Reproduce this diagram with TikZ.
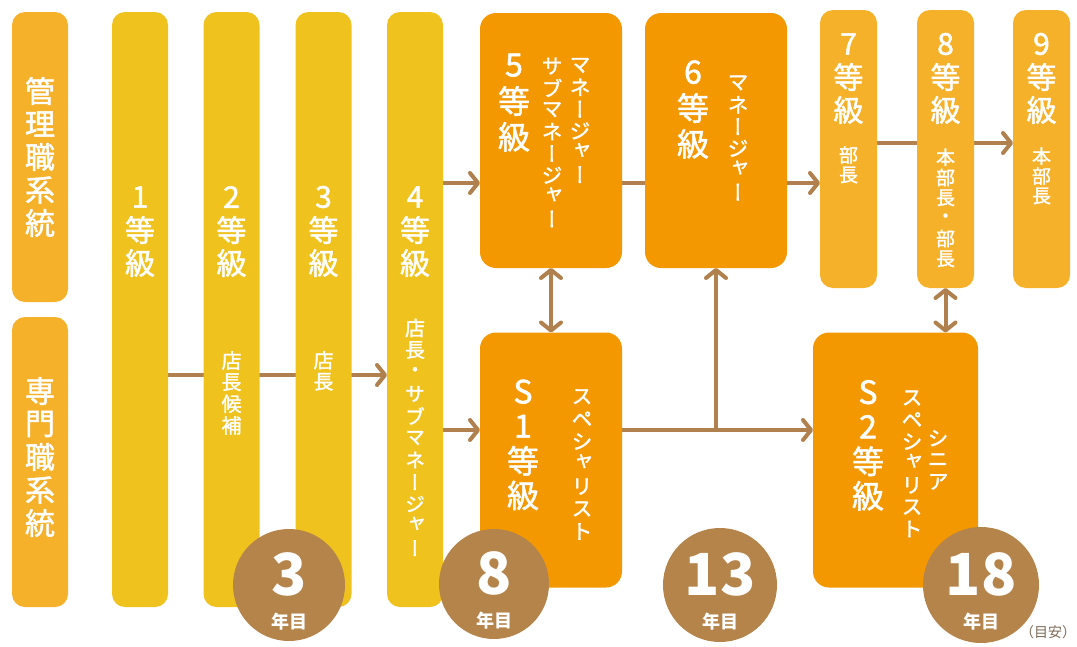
\documentclass[tikz,border=0pt]{standalone}
\usepackage{fontspec}
\usetikzlibrary{arrows.meta,calc}
\newfontfamily\jpv[RawFeature=+vert, FakeBold=1.6]{Noto Sans CJK JP}
\newfontfamily\jp{Noto Sans CJK JP}
\definecolor{cKan}{HTML}{F5B12A}
\definecolor{cBar}{HTML}{EFC21E}
\definecolor{cOra}{HTML}{F39800}
\definecolor{cBrn}{HTML}{B5844B}
\definecolor{cArr}{HTML}{B0814E}
\definecolor{cNote}{HTML}{7B6A58}
\ExplSyntaxOn
\NewDocumentCommand\vt{O{1}m}{
  \vbox{\offinterlineskip
    \tl_map_inline:nn {#2}{
      \tl_if_in:nnTF {ャュョッァィゥェォ} {##1}
        {\hbox to 1em {\hss\vbox to #1em{\vss\hbox{##1}\vss\kern0.22em}\hss}}
        {\hbox to 1em {\hss\vbox to #1em{\vss\hbox{##1}\vss}\hss}}
    }}
}
\ExplSyntaxOff
\pgfdeclarelayer{bg}
\pgfsetlayers{bg,main}
\tikzset{
  box/.style={rectangle, inner sep=0pt, outer sep=0pt},
  kbox/.style={box, fill=cKan, rounded corners=13pt, minimum width=56pt},
  ybar/.style={box, fill=cBar, rounded corners=13pt, minimum width=56pt, minimum height=595pt},
  obox/.style={box, fill=cOra, rounded corners=16pt, minimum height=255pt},
  gbox/.style={box, fill=cKan, rounded corners=13pt, minimum width=57pt, minimum height=278pt},
  yr/.style={circle, fill=cBrn, inner sep=0pt},
  big/.style={text=white, inner sep=0pt, font=\jpv\fontsize{30}{30}\selectfont},
  sm/.style={text=white, inner sep=0pt, font=\jpv\fontsize{20}{20}\selectfont},
  num/.style={text=white, inner sep=0pt, font=\jp\bfseries\fontsize{58}{58}\selectfont},
  nen/.style={text=white, inner sep=0pt, font=\jp\bfseries\fontsize{18}{18}\selectfont},
  line/.style={draw=cArr, line width=4pt},
  arr/.style={line, -{Straight Barb[length=8pt,width=20pt,round]}},
  arrd/.style={line, {Straight Barb[length=8pt,width=20pt,round]}-{Straight Barb[length=8pt,width=20pt,round]}}
}
\begin{document}
\begin{tikzpicture}[x=1pt,y=-1pt]
\useasboundingbox (0,0) rectangle (1077,646);
% left column
\node[kbox, minimum height=290pt] (k1) at (40,157) {};
\node[kbox, minimum height=290pt] (k2) at (40,462) {};
\node[big] (k1t) at (40,157) {\vt[1.1]{管理職系統}};
\node[big] (k2t) at (40,457) {\vt[1.1]{専門職系統}};
% grade bars 1-4
\node[ybar] (b1) at (140,309.5) {};
\node[ybar] (b2) at (231.5,309.5) {};
\node[ybar] (b3) at (323.5,309.5) {};
\node[ybar] (b4) at (415,309.5) {};
\node[big] (b1t) at (140,230) {\vt[1.1]{1等級}};
\node[big] (b2t) at (231.5,230) {\vt[1.1]{2等級}};
\node[big] (b3t) at (323.5,230) {\vt[1.1]{3等級}};
\node[big] (b4t) at (415,230) {\vt[1.1]{4等級}};
\node[sm] (b2s) at (231.5,393) {\vt[1.08]{店長候補}};
\node[sm] (b3s) at (323.5,371) {\vt[1.08]{店長}};
\node[sm] (b4s) at (415,438) {\vt[1.1]{店長・サブマネージャー}};
% orange boxes
\node[obox, minimum width=142pt] (m5) at (551,140.5) {};
\node[obox, minimum width=142pt] (m6) at (716,140.5) {};
\node[obox, minimum width=142pt] (s1) at (551,460) {};
\node[obox, minimum width=165pt] (s2) at (895.5,460) {};
\node[big, font=\jpv\fontsize{32}{32}\selectfont] (m5t) at (514,101) {\vt[1.12]{5等級}};
\node[sm, font=\jpv\fontsize{21}{21}\selectfont] (m5a) at (580,120) {\vt[1.04]{マネージャー}};
\node[sm, font=\jpv\fontsize{21}{21}\selectfont] (m5b) at (552,142.5) {\vt[1.04]{サブマネージャー}};
\node[big, font=\jpv\fontsize{32}{32}\selectfont] (m6t) at (693,108) {\vt[1.12]{6等級}};
\node[sm, font=\jpv\fontsize{21}{21}\selectfont] (m6a) at (738,137.5) {\vt[1.04]{マネージャー}};
\node[big, font=\jpv\fontsize{32}{32}\selectfont] (s1t) at (523,443.5) {\vt[1.08]{S1等級}};
\node[sm, font=\jpv\fontsize{21}{21}\selectfont] (s1a) at (582,464) {\vt[1.07]{スペシャリスト}};
\node[big, font=\jpv\fontsize{32}{32}\selectfont] (s2t) at (868,444) {\vt[1.08]{S2等級}};
\node[sm, font=\jpv\fontsize{21}{21}\selectfont] (s2a) at (912,463.5) {\vt[1.04]{スペシャリスト}};
\node[sm, font=\jpv\fontsize{21}{21}\selectfont] (s2b) at (938,460) {\vt[1.04]{シニア}};
% grades 7-9
\node[gbox] (g7) at (848.5,149) {};
\node[gbox] (g8) at (945.5,149) {};
\node[gbox] (g9) at (1041.5,149) {};
\node[big] (g7t) at (848.5,77) {\vt[1.1]{7等級}};
\node[big] (g8t) at (945.5,77) {\vt[1.1]{8等級}};
\node[big] (g9t) at (1041.5,77) {\vt[1.1]{9等級}};
\node[sm, font=\jpv\fontsize{19}{19}\selectfont] (g7s) at (848.5,165) {\vt[1.05]{部長}};
\node[sm, font=\jpv\fontsize{19}{19}\selectfont] (g8s) at (945.5,208) {\vt[1.07]{本部長・部長}};
\node[sm, font=\jpv\fontsize{19}{19}\selectfont] (g9s) at (1041.5,176) {\vt[1.05]{本部長}};
% year circles
\node[yr, minimum size=112pt] (c3) at (289,585) {};
\node[yr, minimum size=110pt] (c8) at (494,584) {};
\node[yr, minimum size=114pt] (c13) at (720,585) {};
\node[yr, minimum size=116pt] (c18) at (981,585) {};
\foreach \c/\n in {c3/3, c8/8, c13/13, c18/18}{
  \node[num] (\c n) at ($(\c.center)+(0,-11)$) {\n};
  \node[nen] (\c y) at ($(\c.center)+(0,37)$) {年目};
}
\node[text=cNote, inner sep=0pt, font=\jp\fontsize{14}{14}\selectfont, anchor=west] (note) at (1020,632) {（目安）};
% connectors
\coordinate (r1) at (0,375);
\coordinate (r5) at (0,183);
\coordinate (r4) at (0,430);
\coordinate (r7) at (0,143);
\begin{pgfonlayer}{bg}
\draw[arr] (b1.east |- r1) -- (b4.west |- r1);
\draw[arr] (b4.east |- r5) -- (m5.west |- r5);
\draw[arr] (b4.east |- r4) -- (s1.west |- r4);
\draw[line] (m5.east |- r5) -- (m6.west |- r5);
\draw[arr] (m6.east |- r5) -- (g7.west |- r5);
\draw[line] (g7.east |- r7) -- (g8.west |- r7);
\draw[arr] (g8.east |- r7) -- (g9.west |- r7);
\draw[arrd] (m5.south) -- (s1.north);
\draw[arr] (s1.east |- r4) -- (s2.west |- r4);
\draw[arr] (m6.south |- r4) -- (m6.south);
\draw[arrd] (g8.south) -- (g8.south |- s2.north);
\end{pgfonlayer}
\end{tikzpicture}
\end{document}
